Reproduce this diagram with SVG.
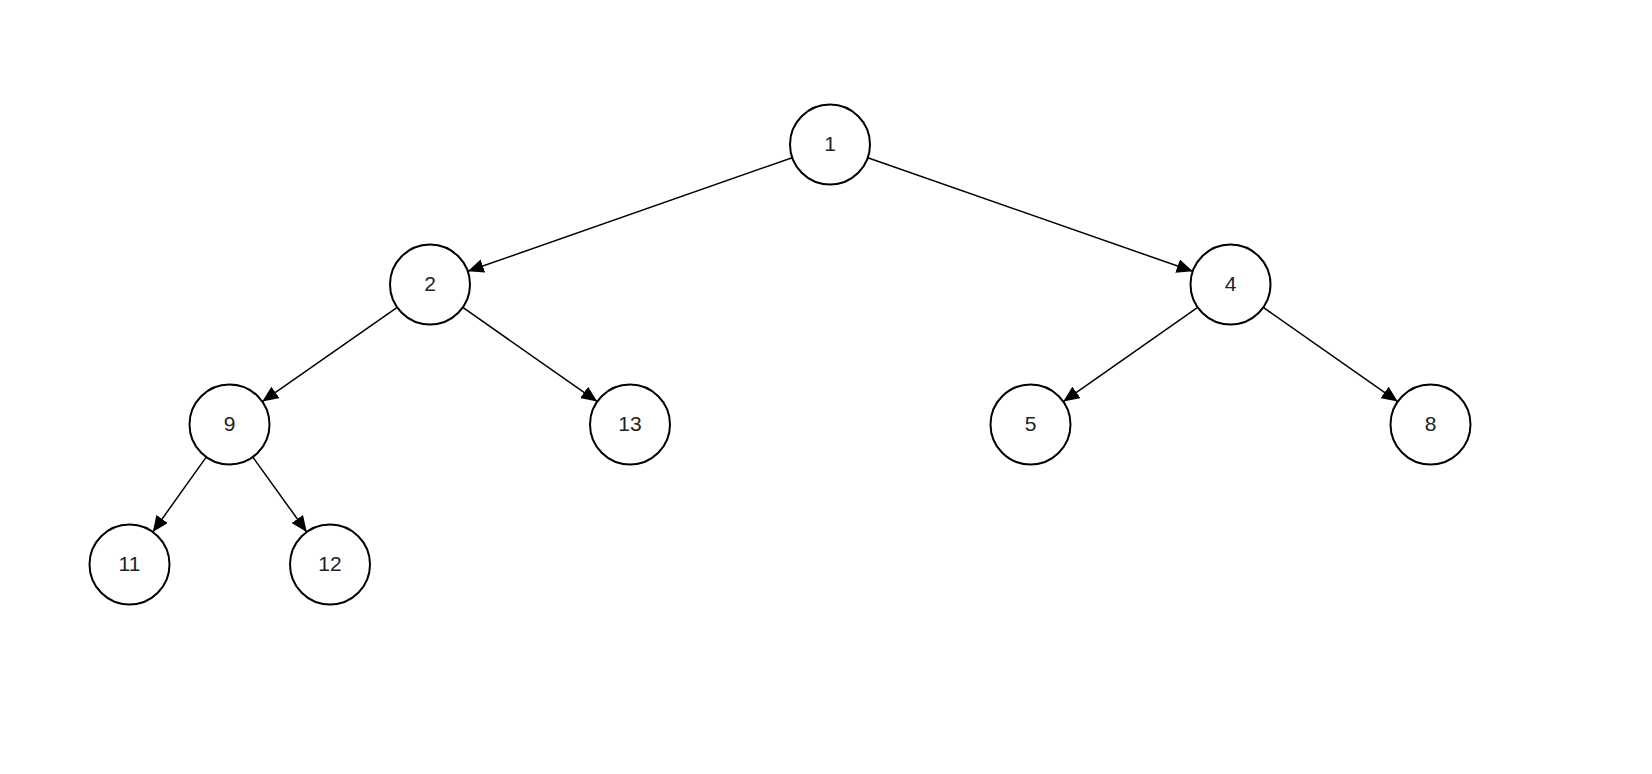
<svg xmlns="http://www.w3.org/2000/svg" width="1652" height="774" viewBox="0 0 1652 774">
<style>
.node circle{fill:#fff;stroke:#000;stroke-width:2}
.node text{font-family:"Liberation Sans",Arial,sans-serif;font-size:21px;fill:#222;text-anchor:middle;dominant-baseline:central}
.edge{stroke:#000;stroke-width:1.5;fill:none;marker-end:url(#arr)}
</style>
<defs>
<marker id="arr" markerUnits="userSpaceOnUse" markerWidth="17" markerHeight="14" refX="16" refY="7" orient="auto" viewBox="0 0 17 14">
<path d="M0,0 L16,7 L0,14 z" fill="#000"/>
</marker>
</defs>
<rect width="1652" height="774" fill="#fff"/>
<g id="connectors">
<line class="edge" x1="792.2" y1="157.7" x2="467.8" y2="271.3"/>
<line class="edge" x1="867.8" y1="157.7" x2="1192.7" y2="271.3"/>
<line class="edge" x1="397.2" y1="307.4" x2="262.3" y2="401.6"/>
<line class="edge" x1="462.8" y1="307.4" x2="597.2" y2="401.6"/>
<line class="edge" x1="1197.7" y1="307.4" x2="1063.3" y2="401.6"/>
<line class="edge" x1="1263.3" y1="307.4" x2="1397.7" y2="401.6"/>
<line class="edge" x1="206.2" y1="457.1" x2="152.8" y2="532.0"/>
<line class="edge" x1="252.8" y1="457.0" x2="306.7" y2="532.0"/>
</g>
<g id="n1" class="node"><circle cx="830" cy="144.5" r="40"/><text x="830" y="143">1</text></g>
<g id="n2" class="node"><circle cx="430" cy="284.5" r="40"/><text x="430" y="283">2</text></g>
<g id="n4" class="node"><circle cx="1230.5" cy="284.5" r="40"/><text x="1230.5" y="283">4</text></g>
<g id="n9" class="node"><circle cx="229.5" cy="424.5" r="40"/><text x="229.5" y="423">9</text></g>
<g id="n13" class="node"><circle cx="630" cy="424.5" r="40"/><text x="630" y="423">13</text></g>
<g id="n5" class="node"><circle cx="1030.5" cy="424.5" r="40"/><text x="1030.5" y="423">5</text></g>
<g id="n8" class="node"><circle cx="1430.5" cy="424.5" r="40"/><text x="1430.5" y="423">8</text></g>
<g id="n11" class="node"><circle cx="129.5" cy="564.5" r="40"/><text x="129.5" y="563">11</text></g>
<g id="n12" class="node"><circle cx="330" cy="564.5" r="40"/><text x="330" y="563">12</text></g>
</svg>
